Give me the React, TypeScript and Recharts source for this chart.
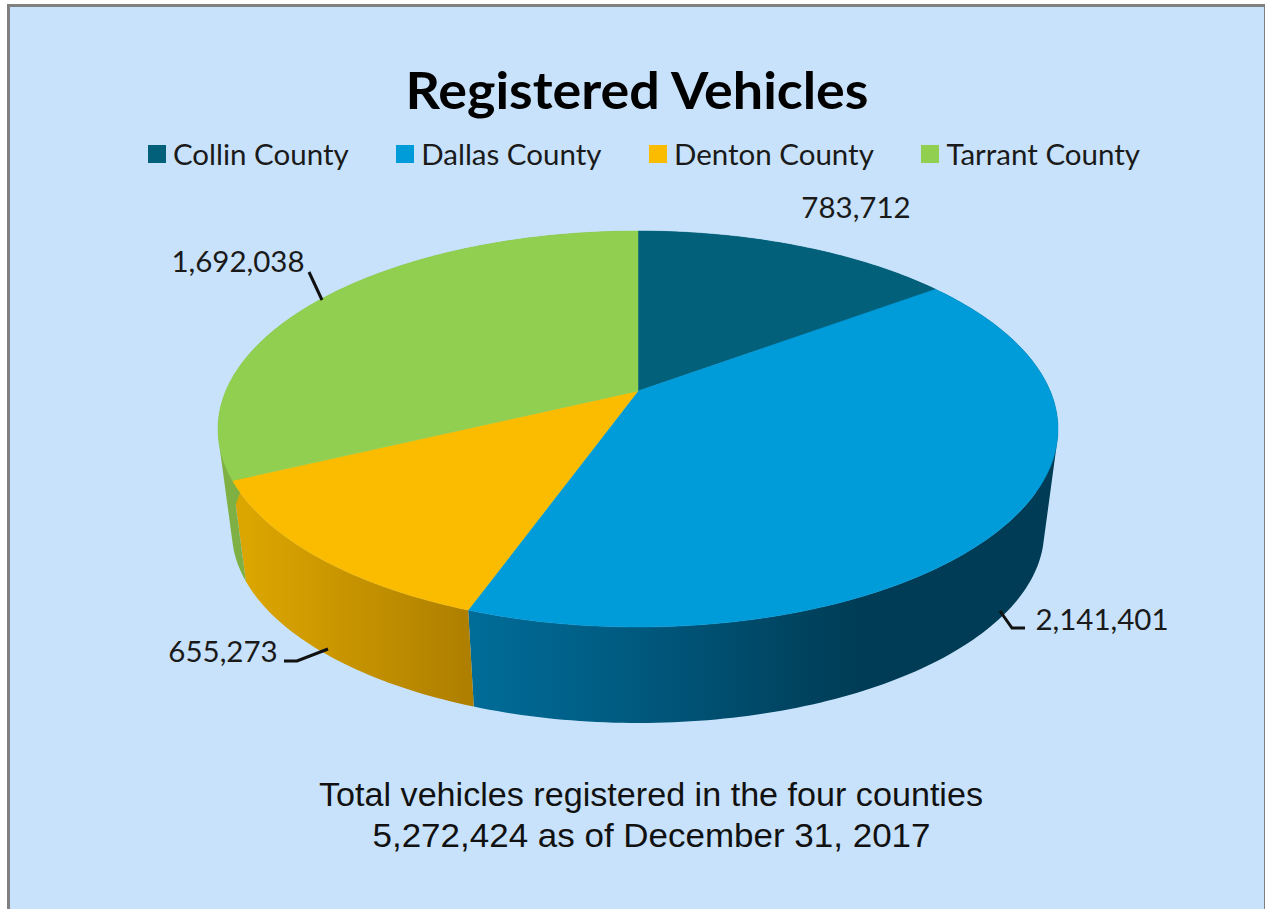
import React from 'react';
import { PieChart, Pie, Cell, Legend } from 'recharts';

const counties = ['Collin County', 'Dallas County', 'Denton County', 'Tarrant County'];
const vehicles = [783712, 2141401, 655273, 1692038];
const topColors = ['#02607a', '#009bd9', '#fbbc00', '#90cf50'];
const wallColors = ['#02465a', 'url(#dallasWall)', 'url(#dentonWall)', '#7fb044'];

// label placement and leader lines, in the same order as the counties
const labelX = [856, 1102, 223, 238];
const labelY = [218, 630, 662, 272];
const leaders = [
  '',
  'M1000 611 L1012 628 L1025 628',
  'M328 649 L297 661 L284 661',
  'M309 272 L322 300',
];

const chartData = counties.map((name, i) => ({ name, value: vehicles[i] }));

// the pie is seen in perspective, so the unit circle goes through a projective map
const PERSP = 0.192;
const RY = 0.4714;
const SHIFT = 0.0905;
const BOTTOM_SCALE = 0.967;
const BOTTOM_DROP = 102.5;

const project = (cx: number, cy: number, r: number, deg: number, bottom = false) => {
  const a = (deg * Math.PI) / 180;
  const u = Math.cos(a);
  const v = Math.sin(a);
  const w = 1 + PERSP * v;
  const k = bottom ? BOTTOM_SCALE : 1;
  const centerY = cy + SHIFT * r + (bottom ? BOTTOM_DROP : 0);
  return {
    x: cx + (k * r * Math.sqrt(1 - PERSP * PERSP) * u) / w,
    y: centerY - (k * r * (RY * v + SHIFT)) / w,
  };
};

const arc = (cx: number, cy: number, r: number, from: number, to: number) => {
  const steps = Math.max(2, Math.ceil(Math.abs(to - from)));
  const pts: string[] = [];
  for (let i = 0; i <= steps; i++) {
    const p = project(cx, cy, r, from + ((to - from) * i) / steps);
    pts.push(`${p.x.toFixed(2)} ${p.y.toFixed(2)}`);
  }
  return pts;
};

const TopSlice = (props: any) => {
  const { cx, cy, outerRadius, startAngle, endAngle, fill } = props;
  const pts = arc(cx, cy, outerRadius, startAngle, endAngle);
  return <path d={`M${cx} ${cy} L${pts.join(' L')} Z`} fill={fill} stroke={fill} strokeWidth={0.5} />;
};

// one quad per step, all wound the same way, so the union also fills the silhouette
const WallSlice = (props: any) => {
  const { cx, cy, outerRadius, startAngle, endAngle, fill } = props;
  const steps = Math.max(2, Math.ceil(Math.abs(endAngle - startAngle)));
  let d = '';
  for (let i = 0; i < steps; i++) {
    const a0 = startAngle + ((endAngle - startAngle) * i) / steps;
    const a1 = startAngle + ((endAngle - startAngle) * (i + 1)) / steps;
    const quad = [
      project(cx, cy, outerRadius, a0),
      project(cx, cy, outerRadius, a1),
      project(cx, cy, outerRadius, a1, true),
      project(cx, cy, outerRadius, a0, true),
    ];
    let area = 0;
    quad.forEach((p, j) => {
      const q = quad[(j + 1) % 4];
      area += p.x * q.y - q.x * p.y;
    });
    if (area < 0) quad.reverse();
    d += `M${quad.map((p) => `${p.x.toFixed(2)} ${p.y.toFixed(2)}`).join(' L')} Z `;
  }
  return <path d={d} fill={fill} stroke="none" fillRule="nonzero" />;
};

const ValueLabel = (props: any) => {
  const { index, value } = props;
  return (
    <g>
      {leaders[index] && <path d={leaders[index]} fill="none" stroke="#111" strokeWidth={3} />}
      <text
        x={labelX[index]}
        y={labelY[index]}
        textAnchor="middle"
        fontFamily="Lato"
        fontSize={29.5}
        fill="#1a1a1a"
      >
        {value.toLocaleString('en-US')}
      </text>
    </g>
  );
};

const LegendRow = ({ payload }: any) => (
  <div style={{ display: 'flex', justifyContent: 'center', gap: 47.5 }}>
    {(payload || [])
      .filter((item: any) => item.type !== 'none')
      .map((item: any) => (
        <div key={item.value} style={{ display: 'flex', alignItems: 'center', gap: 7, whiteSpace: 'nowrap' }}>
          <span style={{ width: 18, height: 18, background: item.color, display: 'block' }} />
          <span style={{ fontFamily: 'Lato', fontSize: 29.5, color: '#1a1a1a', lineHeight: '34px' }}>{item.value}</span>
        </div>
      ))}
  </div>
);

export default function App() {
  return (
    <div style={{ position: 'absolute', left: 0, top: 0, width: 1266, height: 909, background: '#fff', overflow: 'hidden' }}>
      <div
        style={{
          position: 'absolute',
          left: 7,
          top: 4,
          width: 1258,
          height: 905,
          boxSizing: 'border-box',
          background: '#c8e2fb',
          borderTop: '3px solid #808080',
          borderLeft: '3px solid #808080',
          borderRight: '1px solid #808080',
        }}
      />
      <div style={{ position: 'absolute', left: 0, top: 0 }}>
        <PieChart width={1266} height={909} margin={{ top: 0, right: 0, bottom: 0, left: 0 }}>
          <defs>
            <linearGradient id="dentonWall" gradientUnits="userSpaceOnUse" x1={245} x2={474} y1={0} y2={0}>
              <stop offset="0%" stopColor="#dca600" />
              <stop offset="100%" stopColor="#ad7e00" />
            </linearGradient>
            <linearGradient id="dallasWall" gradientUnits="userSpaceOnUse" x1={474} x2={860} y1={0} y2={0}>
              <stop offset="0%" stopColor="#006c98" />
              <stop offset="40%" stopColor="#005a80" />
              <stop offset="100%" stopColor="#003c55" />
            </linearGradient>
          </defs>
          <text x={637} y={109} textAnchor="middle" fontFamily="Lato" fontWeight={700} fontSize={51} fill="#000" textLength={463} lengthAdjust="spacingAndGlyphs">
            Registered Vehicles
          </text>
          <Pie
            data={chartData}
            dataKey="value"
            nameKey="name"
            cx={638}
            cy={391}
            innerRadius={0}
            outerRadius={420}
            startAngle={90}
            endAngle={-270}
            stroke="none"
            legendType="none"
            shape={WallSlice}
            isAnimationActive={false}
          >
            {chartData.map((entry, index) => (
              <Cell key={`wall-${entry.name}`} fill={wallColors[index]} />
            ))}
          </Pie>
          <Pie
            data={chartData}
            dataKey="value"
            nameKey="name"
            cx={638}
            cy={391}
            innerRadius={0}
            outerRadius={420}
            startAngle={90}
            endAngle={-270}
            stroke="none"
            shape={TopSlice}
            label={ValueLabel}
            labelLine={false}
            isAnimationActive={false}
          >
            {chartData.map((entry, index) => (
              <Cell key={`top-${entry.name}`} fill={topColors[index]} />
            ))}
          </Pie>
          <Legend
            verticalAlign="middle"
            content={LegendRow}
            wrapperStyle={{ position: 'absolute', left: 0, top: 137, width: 1288 }}
          />
          <text x={651} y={806} textAnchor="middle" fontFamily="Liberation Sans" fontSize={34} fill="#111" textLength={664} lengthAdjust="spacingAndGlyphs">
            Total vehicles registered in the four counties
          </text>
          <text x={651.5} y={847} textAnchor="middle" fontFamily="Liberation Sans" fontSize={34} fill="#111" textLength={558} lengthAdjust="spacingAndGlyphs">
            5,272,424 as of December 31, 2017
          </text>
        </PieChart>
      </div>
    </div>
  );
}
